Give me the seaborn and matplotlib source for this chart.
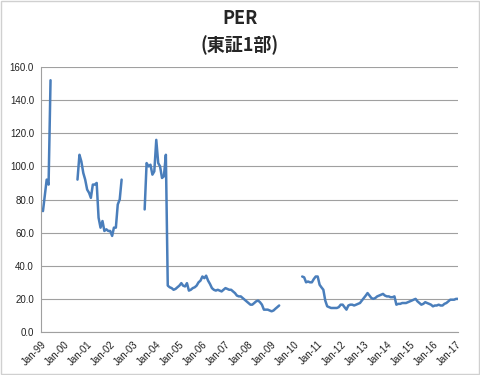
import pandas as pd
import numpy as np
import matplotlib
matplotlib.use("Agg")
import matplotlib.pyplot as plt
import matplotlib.dates as mdates
from matplotlib.patches import Rectangle
import seaborn as sns

# Monthly PER values, one list per continuous stretch of the series
seg1_start = "1999-01"
seg1_per = [74, 73, 82, 92, 89, 152]

seg2_start = "2000-08"
seg2_per = [92, 107, 103, 96, 92, 86, 84, 81, 89, 89, 90, 69, 63, 67, 61, 62,
            61, 61, 58, 63, 63, 77, 80, 92]

seg3_start = "2003-07"
seg3_per = [74, 102, 100, 101, 95, 97, 116, 102, 100, 93, 94, 107,
            28, 27, 26.5, 25.5, 26, 27, 28, 29.5, 28, 27.5, 29.5, 25,
            25.5, 26.5, 27, 28, 30, 31, 33.5, 32.5, 34, 31, 29, 26.5,
            25.5, 25, 25.5, 25, 24.5, 25.5, 26.5, 26, 25.5, 25.5, 24.5, 23.5,
            22, 21.5, 21.5, 20.5, 19.5, 18.5, 17.5, 16.5, 16.5, 17.5, 18.5, 19,
            18, 16.5, 13.5, 13.5, 13.5, 13, 12.5, 13, 14, 15, 16]

seg4_start = "2010-05"
seg4_per = [33.5, 33, 30, 30.5, 30, 30, 32, 33.5, 33.5, 28.5, 27, 25.5,
            19, 15.5, 15, 14.5, 14.5, 14.5, 14.5, 15, 16.5, 16.5, 15, 13.5,
            16, 16.5, 16.5, 16, 16.5, 17, 17.5, 19, 20.5, 22, 23.5, 22,
            20.5, 20, 20.5, 21.5, 22, 22.5, 23, 22, 21.5, 21.5, 21, 21,
            21.5, 16.5, 17, 17, 17.5, 17.5, 17.5, 18, 18.5, 19, 19.5, 20,
            18.5, 17.5, 16.5, 17, 18, 17.5, 17, 16.5, 15.5, 16, 16, 16.5,
            16, 16, 17, 17.5, 18.5, 19.5, 19.5, 19.5, 20, 20]

y_ticks = [0, 20, 40, 60, 80, 100, 120, 140, 160]

# build one long table, a "seg" column keeps the gaps
frames = []
for i, (start, vals) in enumerate([(seg1_start, seg1_per), (seg2_start, seg2_per),
                                   (seg3_start, seg3_per), (seg4_start, seg4_per)]):
    dates = pd.date_range(start, periods=len(vals), freq="MS")
    frames.append(pd.DataFrame({"date": dates, "per": vals, "seg": i}))
df = pd.concat(frames, ignore_index=True)

sns.set_style("white")
plt.rcParams["font.family"] = ["Liberation Sans", "DejaVu Sans"]

fig = plt.figure(figsize=(4.8, 3.75), dpi=100)
ax = fig.add_axes([41 / 480, 1 - 332 / 375, (458 - 41) / 480, (332 - 67) / 375])

sns.lineplot(data=df, x="date", y="per", units="seg", estimator=None,
             color="#4a7ebb", linewidth=1.8, ax=ax)

ax.set_xlim(pd.Timestamp("1999-01-01"), pd.Timestamp("2017-02-01"))
ax.set_ylim(0, 160)
ax.set_yticks(y_ticks)
ax.yaxis.set_major_formatter(matplotlib.ticker.FormatStrFormatter("%.1f"))
ax.xaxis.set_major_locator(mdates.YearLocator(1, month=1, day=1))
ax.xaxis.set_major_formatter(mdates.DateFormatter("%b-%y"))

ax.grid(axis="y", color="#a0a0a0", linewidth=0.8)
ax.set_axisbelow(True)
for s in ["top", "right"]:
    ax.spines[s].set_visible(False)
for s in ["left", "bottom"]:
    ax.spines[s].set_color("#a0a0a0")
    ax.spines[s].set_linewidth(0.8)

ax.tick_params(axis="both", which="major", length=3, width=0.8, color="#a0a0a0",
               labelsize=7, labelcolor="#222222", direction="out", pad=2)
plt.setp(ax.get_xticklabels(), rotation=45, ha="right", rotation_mode="anchor")
ax.set_xlabel("")
ax.set_ylabel("")

fig.text(0.5, 1 - 32 / 375, "PER\n(東証1部)", ha="center", va="center",
         fontsize=13, fontweight="bold", linespacing=1.45,
         family=["Noto Sans CJK JP", "DejaVu Sans"])

# light frame round the chart area
fig.patches.append(Rectangle((0.002, 0.003), 0.995, 0.994, transform=fig.transFigure,
                             fill=False, edgecolor="#d0d0d0", linewidth=1))

fig.savefig("out.png", dpi=100)
